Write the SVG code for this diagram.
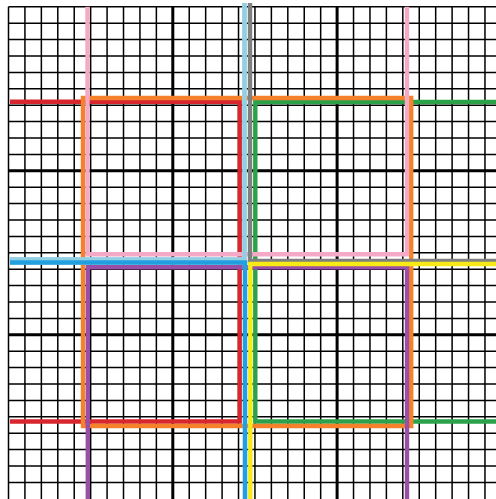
<svg xmlns="http://www.w3.org/2000/svg" width="496" height="499" viewBox="0 0 496 499">
<style>
.minor{stroke:#000;stroke-width:1.5;fill:none}
.major{stroke:#000;stroke-width:3;fill:none}
.c{fill:none;stroke-width:4.4;stroke-linejoin:miter;stroke-linecap:butt}
</style>
<rect width="496" height="499" fill="#fff"/>
<g id="grid">
<path class="minor" d="M8.5 6.8V499M24.93 6.8V499M41.36 6.8V499M57.79 6.8V499M74.22 6.8V499M90.65 6.8V499M107.08 6.8V499M123.51 6.8V499M139.94 6.8V499M156.37 6.8V499M189.23 6.8V499M205.66 6.8V499M222.09 6.8V499M238.52 6.8V499M254.95 6.8V499M271.38 6.8V499M287.81 6.8V499M304.24 6.8V499M320.67 6.8V499M353.53 6.8V499M369.96 6.8V499M386.39 6.8V499M402.82 6.8V499M419.25 6.8V499M435.68 6.8V499M452.11 6.8V499M468.54 6.8V499M484.97 6.8V499"/>
<path class="minor" d="M8.5 6.8H496M8.5 23.2H496M8.5 39.6H496M8.5 56H496M8.5 72.4H496M8.5 88.8H496M8.5 105.2H496M8.5 121.6H496M8.5 138H496M8.5 154.4H496M8.5 187.2H496M8.5 203.6H496M8.5 220H496M8.5 236.4H496M8.5 252.8H496M8.5 269.2H496M8.5 285.6H496M8.5 302H496M8.5 318.4H496M8.5 351.2H496M8.5 367.6H496M8.5 384H496M8.5 400.4H496M8.5 416.8H496M8.5 433.2H496M8.5 449.6H496M8.5 466H496M8.5 482.4H496"/>
<path class="major" d="M172.8 6.8V499M337.1 6.8V499M8.5 170.8H496M8.5 334.8H496"/>
</g>
<g id="connectors">
<path id="red" class="c" stroke="#d7262e" d="M10 101.7H239.7V421.5H10"/>
<path id="green" class="c" stroke="#2ba24a" d="M496 102H255.3V421.5H496"/>
<path id="orange" class="c" stroke="#f5822a" d="M83 98H411.2V426H83Z"/>
<path id="pink" class="c" stroke="#f4aac6" d="M87.5 6.8V254.3H407V6.8"/>
<path id="purple" class="c" stroke="#9a4fa7" d="M87.8 499V267.3H407V499"/>
<path id="lightblue" class="c" stroke="#a8d8ea" stroke-width="6" d="M244.5 3V259.5H10"/>
<path class="c" stroke="#93cfe3" stroke-width="1.5" d="M244.5 3V259.5H10"/>
<path id="gray" class="c" stroke="#808080" stroke-width="3.6" d="M250 3V261H496"/>
<path class="c" stroke="#a8d8ea" stroke-width="7" d="M10 262.5H245V499"/>
<path id="blue" class="c" stroke="#229fdf" stroke-width="3.6" d="M10 262.5H245V499"/>
<path id="yellow" class="c" stroke="#f7ea16" stroke-width="3.4" d="M496 264H250.3V499"/>
</g>
</svg>
